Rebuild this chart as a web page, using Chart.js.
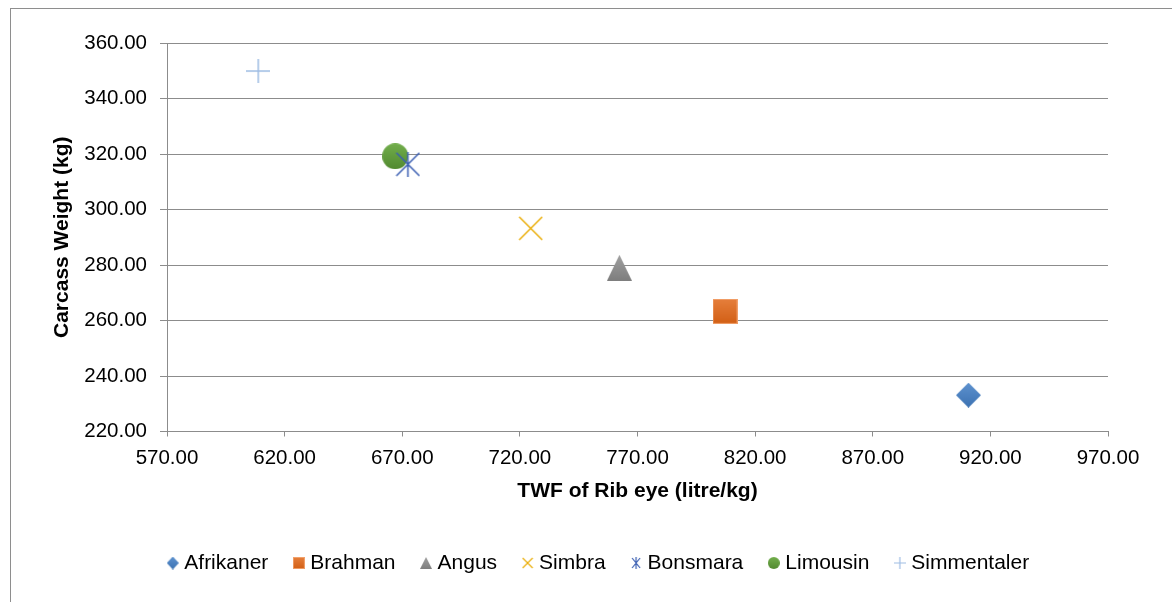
<!DOCTYPE html>
<html>
<head>
<meta charset="utf-8">
<script src="https://cdn.jsdelivr.net/npm/chart.js@4"></script>
<style>
  html, body { margin: 0; padding: 0; background: #ffffff; overflow: hidden; }
  #frame { position: absolute; left: 10px; top: 8px; width: 2000px; height: 2000px; border: 1px solid #8e8e8e; }
  #wrap { position: absolute; left: 0; top: 0; width: 1172px; height: 602px; }
</style>
</head>
<body>
<div id="frame"></div>
<div id="wrap"><canvas id="c" width="1172" height="602"></canvas></div>
<script>
// ---- data ----
const breeds = ['Afrikaner', 'Brahman', 'Angus', 'Simbra', 'Bonsmara', 'Limousin', 'Simmentaler'];
const twfRibEye = [910.7, 807.2, 762.3, 724.6, 672.4, 667.0, 608.8];
const carcassWeight = [233.1, 263.3, 279.0, 293.2, 316.3, 319.2, 349.9];
const xTicksMin = 570, xTicksMax = 970, xStep = 50;
const yTicksMin = 220, yTicksMax = 360, yStep = 20;
const xTitle = 'TWF of Rib eye (litre/kg)';
const yTitle = 'Carcass Weight (kg)';

// ---- styles ----
const markerKinds = ['diamond', 'square', 'triangle', 'x', 'asterisk', 'circle', 'plus'];
const markerColors = ['#4A80C0', '#DD6A22', '#8E8E8E', '#EAAE0A', '#3A5EB2', '#5E9A3A', '#9FBDE4'];
const markerTop = ['#5E92CF', '#E67F3C', '#A0A0A0', '#EAAE0A', '#3A5EB2', '#72AE4C', '#9FBDE4'];
const markerBottom = ['#3C72B2', '#D25F15', '#7E7E7E', '#EAAE0A', '#3A5EB2', '#528A30', '#9FBDE4'];
const FONT = '"Liberation Sans", Arial, Helvetica, sans-serif';

function makeMarker(i, w, h, lw) {
  const c = document.createElement('canvas');
  c.width = w; c.height = h;
  const g = c.getContext('2d');
  const grad = g.createLinearGradient(0, 0, 0, h);
  grad.addColorStop(0, markerTop[i]);
  grad.addColorStop(1, markerBottom[i]);
  g.fillStyle = grad;
  g.strokeStyle = markerColors[i];
  g.lineWidth = lw;
  const k = markerKinds[i];
  g.beginPath();
  if (k === 'diamond') {
    g.moveTo(w / 2, 0); g.lineTo(w, h / 2); g.lineTo(w / 2, h); g.lineTo(0, h / 2); g.closePath(); g.fill();
  } else if (k === 'square') {
    g.rect(0, 0, w, h); g.fill();
    g.strokeStyle = 'rgba(245,170,120,0.8)'; g.lineWidth = 1; g.strokeRect(0.5, 0.5, w - 1, h - 1);
  } else if (k === 'triangle') {
    g.moveTo(w / 2, 0); g.lineTo(w, h); g.lineTo(0, h); g.closePath(); g.fill();
  } else if (k === 'circle') {
    g.arc(w / 2, h / 2, Math.min(w, h) / 2, 0, Math.PI * 2); g.fill();
  } else if (k === 'x') {
    g.moveTo(1, 1); g.lineTo(w - 1, h - 1); g.moveTo(w - 1, 1); g.lineTo(1, h - 1); g.stroke();
  } else if (k === 'asterisk') {
    g.moveTo(1, 1); g.lineTo(w - 1, h - 1); g.moveTo(w - 1, 1); g.lineTo(1, h - 1);
    g.moveTo(w / 2, 0); g.lineTo(w / 2, h); g.stroke();
  } else if (k === 'plus') {
    g.moveTo(w / 2, 0); g.lineTo(w / 2, h); g.moveTo(0, h / 2); g.lineTo(w, h / 2); g.stroke();
  }
  return c;
}

const bigSizes = [[25, 25], [25, 25], [25, 26], [25, 25], [25, 25], [26, 26], [24, 24]];
const smallSizes = [[12, 13], [12, 12], [12, 12], [12, 12], [10, 12], [12, 12], [12, 12]];
const bigMarkers = bigSizes.map((s, i) => makeMarker(i, s[0], s[1], 1.5));
const smallMarkers = smallSizes.map((s, i) => makeMarker(i, s[0], s[1], 1.2));

const datasets = breeds.map((b, i) => ({
  label: b,
  data: [{ x: twfRibEye[i], y: carcassWeight[i] }],
  pointStyle: bigMarkers[i],
  backgroundColor: markerColors[i],
  borderColor: markerColors[i],
  yAxisID: 'y'
}));

const GRID = '#8c8c8c';

new Chart(document.getElementById('c'), {
  type: 'scatter',
  data: { datasets },
  options: {
    responsive: false,
    animation: false,
    events: [],
    layout: { padding: { left: 29, right: 0, top: 43, bottom: 18.5 } },
    plugins: {
      tooltip: { enabled: false },
      legend: {
        display: true,
        position: 'bottom',
        fullSize: true,
        labels: {
          usePointStyle: true,
          boxWidth: 2,
          padding: 29.5,
          color: '#000000',
          font: { family: FONT, size: 21 },
          generateLabels: (chart) => {
            const items = Chart.defaults.plugins.legend.labels.generateLabels(chart);
            return items.map((it) => Object.assign(it, { pointStyle: smallMarkers[it.datasetIndex] }));
          }
        }
      }
    },
    scales: {
      x: {
        type: 'linear',
        position: 'bottom',
        min: xTicksMin, max: xTicksMax,
        afterFit: (s) => { s.height = 91.5; },
        ticks: {
          stepSize: xStep,
          color: '#000000',
          padding: 10,
          maxRotation: 0,
          font: { family: FONT, size: 20.5 },
          callback: (v) => Number(v).toFixed(2)
        },
        grid: { display: true, drawOnChartArea: false, drawTicks: true, tickLength: 5, color: GRID, lineWidth: 1 },
        border: { display: true, color: GRID, width: 1 },
        title: {
          display: true,
          text: xTitle,
          color: '#000000',
          font: { family: FONT, size: 21, weight: 'bold' },
          padding: { top: 0, bottom: 19.3 }
        }
      },
      y: {
        type: 'linear',
        position: 'left',
        min: yTicksMin, max: yTicksMax,
        afterFit: (s) => { s.width = 138; },
        ticks: {
          stepSize: yStep,
          color: '#000000',
          padding: 13,
          font: { family: FONT, size: 20.5 },
          callback: (v) => Number(v).toFixed(2)
        },
        grid: { display: true, drawOnChartArea: true, drawTicks: true, tickLength: 7, color: GRID, lineWidth: 1 },
        border: { display: true, color: GRID, width: 1 },
        title: {
          display: true,
          text: yTitle,
          color: '#000000',
          font: { family: FONT, size: 21, weight: 'bold' },
          padding: { top: 20.4, bottom: 0 }
        }
      },
      yRightSpace: {
        type: 'linear',
        position: 'right',
        display: true,
        afterFit: (s) => { s.width = 64; },
        ticks: { display: false },
        grid: { display: false, drawTicks: false },
        border: { display: false }
      }
    }
  }
});
</script>
</body>
</html>
